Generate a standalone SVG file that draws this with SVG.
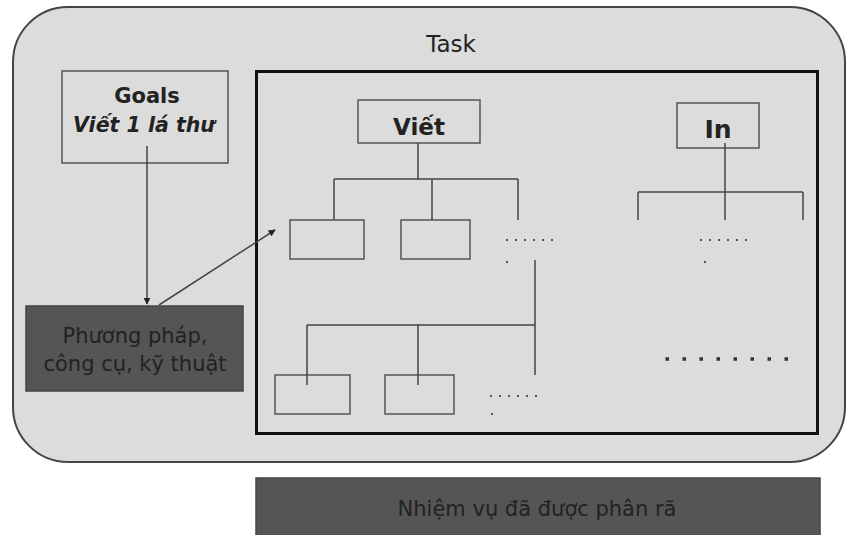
<svg xmlns="http://www.w3.org/2000/svg" width="849" height="535" viewBox="0 0 849 535">
<defs>
<style>
text{font-family:"DejaVu Sans","Liberation Sans",sans-serif;fill:#222}
.box{fill:none;stroke:#555;stroke-width:1.5}
.ln{fill:none;stroke:#444;stroke-width:1.5}
.dk{fill:#555;stroke:#444;stroke-width:1.5}
.dot{fill:none;stroke:#555;stroke-width:2;stroke-dasharray:2 7}
.bdot{fill:none;stroke:#333;stroke-width:3.5;stroke-dasharray:3.5 13.5}
</style>
<marker id="ah" viewBox="0 0 10 10" refX="9" refY="5" markerWidth="7" markerHeight="7" orient="auto" markerUnits="userSpaceOnUse">
<path d="M0,0 L10,5 L0,10 z" fill="#222"/>
</marker>
</defs>
<rect width="849" height="535" fill="#fff"/>
<g id="task">
<rect x="13" y="7" width="832" height="455" rx="55" ry="55" fill="#dcdcdc" stroke="#444" stroke-width="2"/>
<text x="451" y="52" font-size="23" text-anchor="middle">Task</text>
</g>
<g id="decomposed">
<rect x="256.5" y="71.5" width="561" height="362" fill="none" stroke="#111" stroke-width="3"/>
</g>
<g id="goals">
<rect x="62" y="71" width="166" height="92" class="box"/>
<text x="147" y="103" font-size="21" font-weight="bold" text-anchor="middle">Goals</text>
<text x="144" y="132" font-size="20.5" font-weight="bold" font-style="italic" text-anchor="middle">Viết 1 lá thư</text>
</g>
<g id="method">
<rect x="26" y="306" width="217" height="85" class="dk"/>
<text x="135" y="343" font-size="21" text-anchor="middle">Phương pháp,</text>
<text x="135" y="371" font-size="21" text-anchor="middle">công cụ, kỹ thuật</text>
</g>
<g id="viet">
<rect x="358" y="100" width="122" height="43" class="box"/>
<text x="419" y="135" font-size="23" font-weight="bold" text-anchor="middle">Viết</text>
</g>
<g id="in">
<rect x="677" y="103" width="82" height="45" class="box"/>
<text x="718" y="138" font-size="25" font-weight="bold" text-anchor="middle">In</text>
</g>
<g id="sub1"><rect x="290" y="220" width="74" height="39" class="box"/></g>
<g id="sub2"><rect x="401" y="220" width="69" height="39" class="box"/></g>
<g id="sub3"><rect x="275" y="375" width="75" height="39" class="box"/></g>
<g id="sub4"><rect x="385" y="375" width="69" height="39" class="box"/></g>
<g id="result">
<rect x="256" y="478" width="564" height="60" class="dk"/>
<text x="537" y="516" font-size="21" text-anchor="middle">Nhiệm vụ đã được phân rã</text>
</g>
<g id="connectors">
<line x1="147" y1="146" x2="147" y2="304" class="ln" marker-end="url(#ah)"/>
<line x1="159" y1="305" x2="275" y2="230" class="ln" marker-end="url(#ah)"/>
<path d="M418,143 V179 M334,179 H518 M334,179 V220 M432,179 V220 M518,179 V220" class="ln"/>
<path d="M725,143 V220 M638,192 H803 M638,192 V220 M803,192 V220" class="ln"/>
<path d="M535,260 V375 M307,325 H535 M307,325 V385 M418,325 V385" class="ln"/>
</g>
<g id="ellipses">
<path d="M506,240 H558" class="dot"/>
<path d="M506,262 H509" class="dot"/>
<path d="M700,240 H752" class="dot"/>
<path d="M704,262 H707" class="dot"/>
<path d="M490,396 H542" class="dot"/>
<path d="M491,414 H494" class="dot"/>
<path d="M665.5,359 H790" class="bdot"/>
</g>
</svg>
